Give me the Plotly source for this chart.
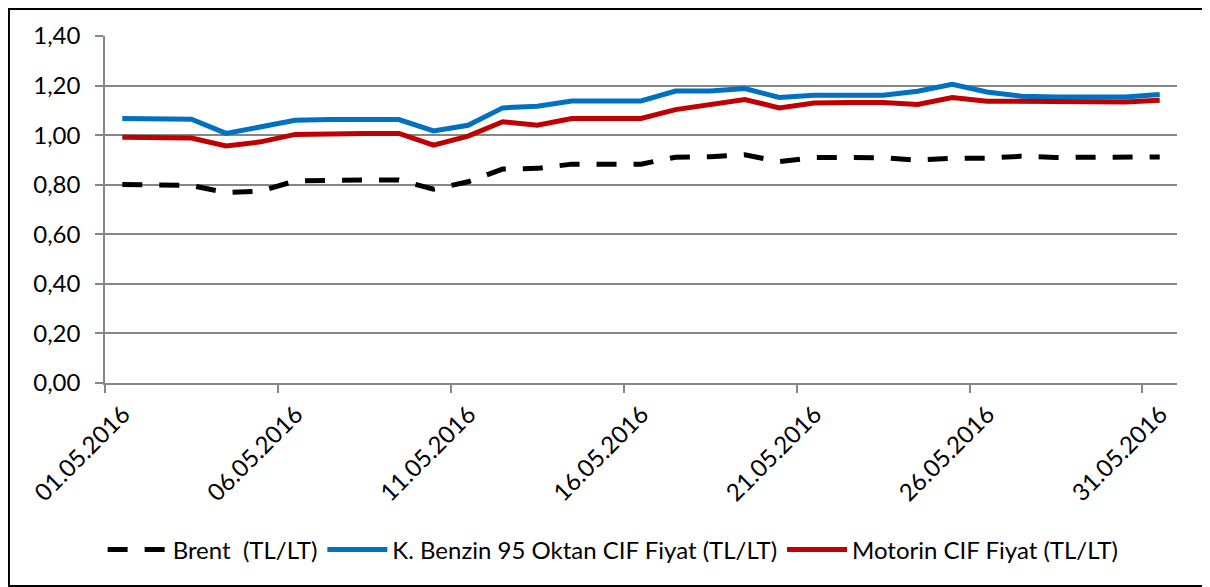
import plotly.graph_objects as go

# günlük veriler, 01.05.2016 - 31.05.2016
dates = [f"2016-05-{d:02d}" for d in range(1, 32)]

brent = [0.801, 0.801, 0.797, 0.768, 0.774, 0.815, 0.819, 0.819, 0.819, 0.782,
         0.812, 0.863, 0.866, 0.883, 0.883, 0.883, 0.911, 0.913, 0.921, 0.893,
         0.910, 0.910, 0.909, 0.899, 0.907, 0.907, 0.915, 0.910, 0.910, 0.910,
         0.912]

benzin = [1.067, 1.067, 1.064, 1.007, 1.031, 1.060, 1.063, 1.063, 1.063, 1.017,
          1.040, 1.110, 1.117, 1.138, 1.138, 1.138, 1.178, 1.178, 1.188, 1.152,
          1.161, 1.161, 1.161, 1.177, 1.205, 1.174, 1.157, 1.154, 1.154, 1.154,
          1.164]

motorin = [0.991, 0.991, 0.988, 0.956, 0.973, 1.003, 1.007, 1.007, 1.007, 0.960,
           0.996, 1.054, 1.040, 1.067, 1.067, 1.067, 1.103, 1.121, 1.144, 1.110,
           1.130, 1.132, 1.132, 1.124, 1.152, 1.137, 1.135, 1.134, 1.134, 1.134,
           1.141]

series_names = ['Brent  (TL/LT)', 'K. Benzin 95 Oktan CIF Fiyat (TL/LT)',
                'Motorin CIF Fiyat (TL/LT)']

FONT = 'Lato'
DAY = 86400000
GRID = '#868686'

fig = go.Figure()

fig.add_trace(go.Scatter(
    x=dates, y=brent, name=series_names[0], mode='lines',
    line=dict(color='#000000', width=5, dash='20px,17px'),
    xperiod=DAY, xperiodalignment='middle'
))
fig.add_trace(go.Scatter(
    x=dates, y=benzin, name=series_names[1], mode='lines',
    line=dict(color='#0070C0', width=5),
    xperiod=DAY, xperiodalignment='middle'
))
fig.add_trace(go.Scatter(
    x=dates, y=motorin, name=series_names[2], mode='lines',
    line=dict(color='#C00000', width=5),
    xperiod=DAY, xperiodalignment='middle'
))

# sayfa gövdesinin 8px kenar boşluğu için 1202x579
fig.update_layout(
    width=1202, height=579,
    margin=dict(l=97, r=33, t=28, b=204),
    paper_bgcolor='white', plot_bgcolor='white',
    separators=', ',
    font=dict(family=FONT, size=24, color='#000000'),
    showlegend=True,
    legend=dict(orientation='h', x=0.474, xanchor='center', y=-0.481, yanchor='middle',
                font=dict(size=24), itemwidth=60, tracegroupgap=0),
    shapes=[dict(type='rect', xref='paper', yref='paper',
                 x0=-0.0896, x1=1.0289, y0=-0.585, y1=1.0778,
                 line=dict(color='#000000', width=2))]
)

fig.update_xaxes(
    type='date', range=['2016-05-01', '2016-06-01'],
    tick0='2016-05-01', dtick=5 * DAY, tickformat='%d.%m.%Y',
    tickangle=-45, ticklabelshift=18, ticklabelstandoff=-2,
    ticks='outside', ticklen=8, tickcolor=GRID, tickwidth=1.5,
    showline=True, linecolor=GRID, linewidth=1.5,
    showgrid=False, zeroline=False
)

fig.update_yaxes(
    range=[0, 1.4], dtick=0.2, tickformat='.2f', ticklabelstandoff=10,
    ticks='outside', ticklen=8, tickcolor=GRID, tickwidth=1.5,
    showline=True, linecolor=GRID, linewidth=1.5,
    showgrid=True, gridcolor=GRID, gridwidth=1.5, zeroline=False
)

fig.write_html("out.html")
